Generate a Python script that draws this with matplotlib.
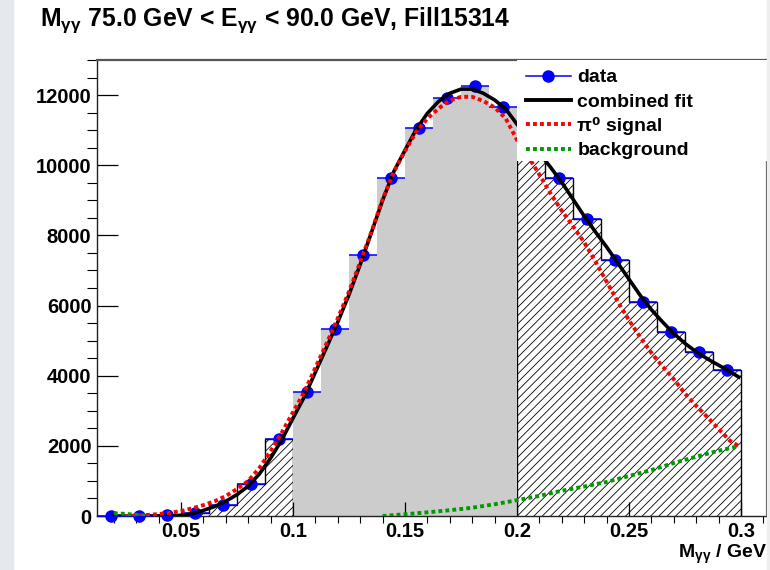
import matplotlib
matplotlib.use("Agg")
import matplotlib.pyplot as plt
import numpy as np
from matplotlib.lines import Line2D
from matplotlib.patches import Rectangle
from matplotlib.ticker import MultipleLocator, FuncFormatter

plt.rcParams['font.family'] = ['Liberation Sans', 'DejaVu Sans']
plt.rcParams['font.weight'] = 'bold'
plt.rcParams['mathtext.fontset'] = 'custom'
plt.rcParams['mathtext.rm'] = 'Liberation Sans:bold'
plt.rcParams['mathtext.it'] = 'Liberation Sans:italic:bold'
plt.rcParams['mathtext.bf'] = 'Liberation Sans:bold'
plt.rcParams['hatch.linewidth'] = 0.6

# M_gg histogram, 23 bins of 12.5 MeV from 0.0125 to 0.3 GeV
bin_edges = np.linspace(0.0125, 0.3, 24)
counts = [0, 10, 30, 80, 320, 910, 2200, 3530, 5340, 7430, 9630, 11070, 11930,
          12270, 11665, 10650, 9635, 8466, 7300, 6090, 5245, 4675, 4160]
# signal window 0.1 - 0.2 GeV drawn grey, sidebands hatched
sig_lo, sig_hi = 7, 15

# combined fit
fit_x = [0.020, 0.025, 0.030, 0.035, 0.040, 0.045, 0.050, 0.055, 0.060, 0.065,
         0.070, 0.075, 0.080, 0.085, 0.090, 0.095, 0.100, 0.105, 0.110, 0.115,
         0.120, 0.125, 0.130, 0.135, 0.140, 0.145, 0.150, 0.155, 0.160, 0.165,
         0.170, 0.175, 0.180, 0.185, 0.190, 0.195, 0.200, 0.205, 0.210, 0.215,
         0.220, 0.225, 0.230, 0.235, 0.240, 0.245, 0.250, 0.255, 0.260, 0.265,
         0.270, 0.275, 0.280, 0.285, 0.290, 0.295, 0.299]
fit_y = [0, 0, 0, 0, 0, 5, 20, 60, 160, 270,
         420, 610, 850, 1200, 1650, 2170, 2790, 3390, 4100, 4810,
         5530, 6310, 7170, 8080, 9000, 9820, 10430, 11020, 11480, 11820,
         12050, 12170, 12170, 12050, 11860, 11600, 11170, 10760, 10350, 9940,
         9510, 9030, 8550, 8100, 7670, 7210, 6750, 6290, 5880, 5530,
         5200, 4920, 4680, 4480, 4300, 4120, 3960]

# pi0 signal component
sig_x = [0.025, 0.030, 0.035, 0.040, 0.045, 0.050, 0.055, 0.060, 0.065, 0.070,
         0.075, 0.080, 0.085, 0.090, 0.095, 0.100, 0.105, 0.110, 0.115, 0.120,
         0.125, 0.130, 0.135, 0.140, 0.145, 0.150, 0.155, 0.160, 0.165, 0.170,
         0.175, 0.180, 0.185, 0.190, 0.195, 0.200, 0.205, 0.210, 0.215, 0.220,
         0.225, 0.230, 0.235, 0.240, 0.245, 0.250, 0.255, 0.260, 0.265, 0.270,
         0.275, 0.280, 0.285, 0.290, 0.295, 0.299]
sig_y = [0, 10, 30, 55, 90, 140, 220, 310, 420, 570,
         770, 1000, 1370, 1850, 2380, 2960, 3530, 4230, 4920, 5640,
         6400, 7240, 8100, 9030, 9810, 10400, 10950, 11330, 11620, 11850,
         11950, 11950, 11830, 11650, 11330, 10720, 10250, 9730, 9190, 8700,
         8260, 7800, 7260, 6680, 6110, 5580, 5100, 4650, 4260, 3900,
         3490, 3140, 2820, 2480, 2150, 1990]

# background component (below zero in between, not visible)
bkg_x = [0.020, 0.025, 0.030, 0.035, np.nan, 0.140, 0.150, 0.160, 0.170, 0.180,
         0.190, 0.200, 0.210, 0.220, 0.230, 0.240, 0.250, 0.260, 0.270, 0.280,
         0.290, 0.299]
bkg_y = [80, 60, 35, 0, np.nan, 0, 50, 105, 165, 235,
         335, 450, 575, 720, 840, 970, 1140, 1310, 1510, 1690,
         1860, 1990]

title = r"M$_{\mathrm{γγ}}$ 75.0 GeV < E$_{\mathrm{γγ}}$ < 90.0 GeV, Fill15314"
xlabel = r"M$_{\mathrm{γγ}}$ / GeV"

W, H = 770, 570
fig = plt.figure(figsize=(W / 100, H / 100), dpi=100)
# window border strips of the screenshot
fig.patches.append(Rectangle((0, 0), 13 / W, 1, transform=fig.transFigure,
                             color='#e4e9ef', zorder=0))
fig.patches.append(Rectangle((767 / W, 0), 3 / W, 1, transform=fig.transFigure,
                             color='#eeeeee', zorder=0))

ax = fig.add_axes([97 / W, 1 - 516 / H, 670 / W, 456 / H])
ax.set_xlim(0.0125, 0.3116)
ax.set_ylim(0, 13000)

centers = 0.5 * (bin_edges[:-1] + bin_edges[1:])
half = 0.5 * (bin_edges[1] - bin_edges[0])

ax.stairs(counts[:sig_lo], bin_edges[:sig_lo + 1], fill=True, facecolor='white',
          edgecolor='black', hatch='////', lw=1, zorder=1)
ax.stairs(counts[sig_hi:], bin_edges[sig_hi:], fill=True, facecolor='white',
          edgecolor='black', hatch='////', lw=1, zorder=1)
ax.stairs(counts[sig_lo:sig_hi], bin_edges[sig_lo:sig_hi + 1], fill=True,
          facecolor='#cccccc', lw=0, zorder=1)

ax.errorbar(centers, counts, xerr=half, fmt='o', color='blue', ms=8,
            elinewidth=1.1, capsize=0, zorder=3, clip_on=False)

dot = (0, (1, 0.8))
ax.plot(fit_x, fit_y, color='black', lw=2.6, zorder=4)
ax.plot(sig_x, sig_y, color='red', lw=2.8, ls=dot, dash_capstyle='butt', zorder=5)
ax.plot(bkg_x, bkg_y, color='#009900', lw=2.8, ls=dot, dash_capstyle='butt', zorder=5)

# legend box
ax.add_patch(Rectangle((0.627, 0.778), 0.373, 0.222, transform=ax.transAxes,
                       facecolor='white', edgecolor='none', zorder=6))
handles = [
    Line2D([], [], color='blue', lw=1.1, marker='o', ms=8),
    Line2D([], [], color='black', lw=2.8),
    Line2D([], [], color='red', lw=2.8, ls=dot, dash_capstyle='butt'),
    Line2D([], [], color='#009900', lw=2.8, ls=dot, dash_capstyle='butt'),
]
labels = ["data", "combined fit", "π⁰ signal", "background"]
leg = ax.legend(handles, labels, loc='upper left', bbox_to_anchor=(0.627, 1.0),
                frameon=False, fontsize=14, handlelength=2.3,
                handletextpad=0.35, labelspacing=0.34, borderaxespad=0.15,
                borderpad=0.3)
leg.set_zorder(7)

for s in ax.spines.values():
    s.set_color('#222222')
    s.set_linewidth(1.0)
ax.spines['top'].set_linewidth(1.6)
ax.spines['right'].set_linewidth(1.6)
ax.spines['top'].set_color('#555555')
ax.spines['right'].set_color('#555555')

ax.xaxis.set_major_locator(MultipleLocator(0.05))
ax.xaxis.set_minor_locator(MultipleLocator(0.01))
ax.yaxis.set_major_locator(MultipleLocator(2000))
ax.yaxis.set_minor_locator(MultipleLocator(500))
ax.xaxis.set_major_formatter(FuncFormatter(lambda v, p: "%g" % round(v, 4)))
ax.yaxis.set_major_formatter(FuncFormatter(lambda v, p: "%d" % v))
ax.tick_params(direction='in', top=False, right=False, labelsize=14.5, width=0.9)
ax.tick_params(axis='x', which='major', length=10, pad=4)
ax.tick_params(axis='x', which='minor', length=5, width=0.8)
ax.tick_params(axis='y', which='major', length=15, pad=4)
ax.tick_params(axis='y', which='minor', length=7.5, width=0.8)
for lab in ax.get_xticklabels() + ax.get_yticklabels():
    lab.set_fontweight('bold')

fig.text(40 / W, 1 - 20 / H, title, ha='left', va='center', fontsize=17.8,
         fontweight='bold')
fig.text(767 / W, 1 - 554 / H, xlabel, ha='right', va='center', fontsize=14,
         fontweight='bold')

fig.savefig("out.png", dpi=100)
